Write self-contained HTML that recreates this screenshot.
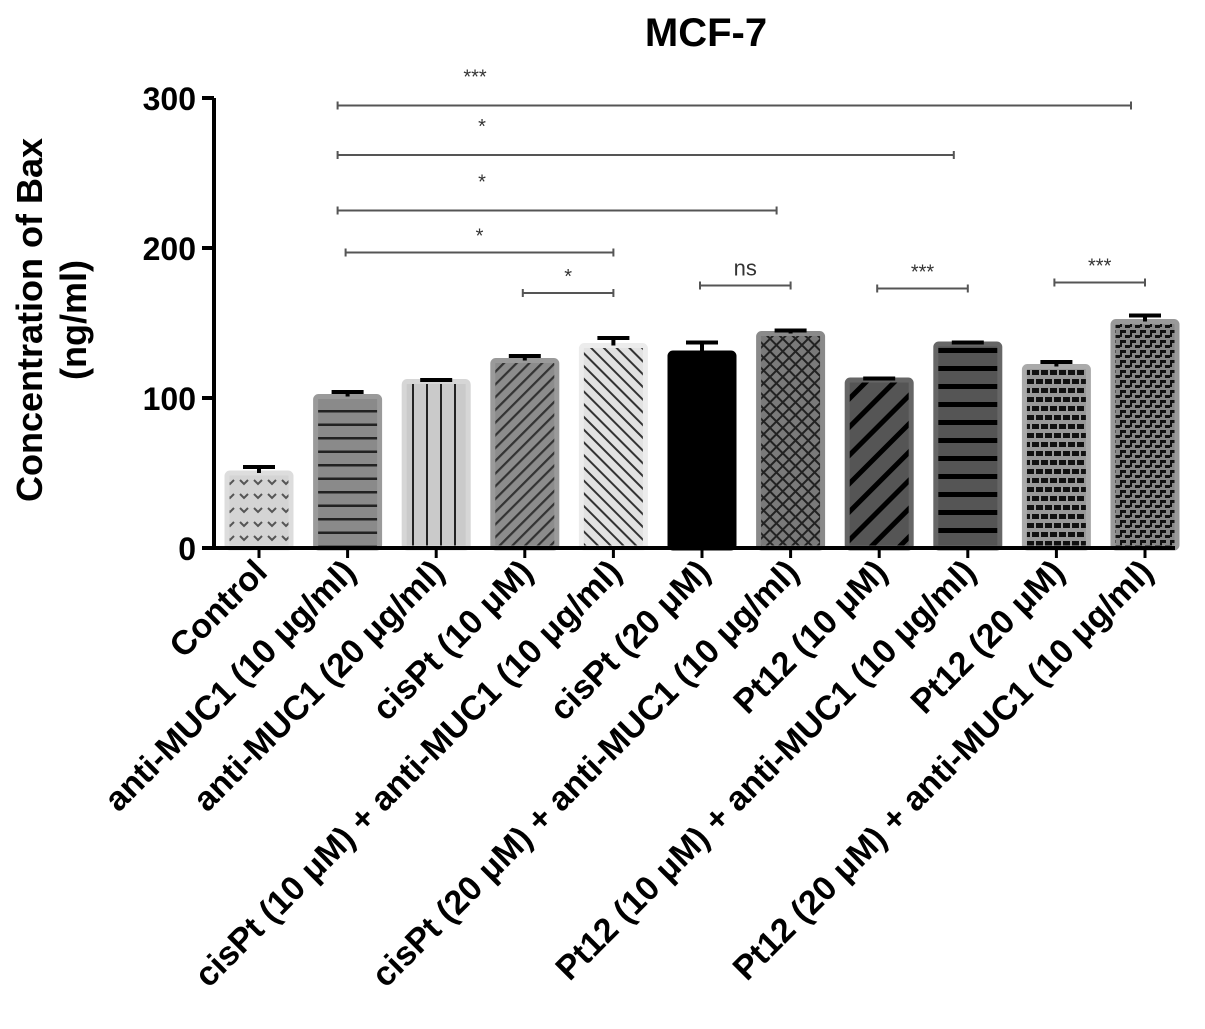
<!DOCTYPE html>
<html><head><meta charset="utf-8"><style>
html,body{margin:0;padding:0;background:#fff;}
svg{display:block;font-family:"Liberation Sans",Arial,sans-serif;}
</style></head><body>
<svg width="1205" height="1029" viewBox="0 0 1205 1029">
<defs>
<pattern id="p0" width="14" height="14" patternUnits="userSpaceOnUse"><rect width="14" height="14" fill="#d4d4d4"/><path d="M2 4 l4 4 l4 -4" stroke="#555" stroke-width="2" fill="none"/></pattern>
<pattern id="p1" width="20" height="13.5" patternUnits="userSpaceOnUse"><rect width="20" height="13.5" fill="#8a8a8a"/><rect y="5" width="20" height="2.5" fill="#222"/></pattern>
<pattern id="p2" width="14" height="20" patternUnits="userSpaceOnUse"><rect width="14" height="20" fill="#cacaca"/><rect x="6" width="2" height="20" fill="#222"/></pattern>
<pattern id="p3" width="9" height="9" patternUnits="userSpaceOnUse" patternTransform="rotate(45)"><rect width="9" height="9" fill="#8c8c8c"/><rect width="2.2" height="9" fill="#333"/></pattern>
<pattern id="p4" width="9" height="9" patternUnits="userSpaceOnUse" patternTransform="rotate(-45)"><rect width="9" height="9" fill="#e2e2e2"/><rect width="2" height="9" fill="#333"/></pattern>
<pattern id="p5" width="10" height="10" patternUnits="userSpaceOnUse"><rect width="10" height="10" fill="#000"/></pattern>
<pattern id="p6" width="9" height="9" patternUnits="userSpaceOnUse" patternTransform="rotate(45)"><rect width="9" height="9" fill="#7a7a7a"/><rect width="2" height="9" fill="#222"/><rect width="9" height="2" fill="#222"/></pattern>
<pattern id="p7" width="20" height="20" patternUnits="userSpaceOnUse" patternTransform="rotate(45)"><rect width="20" height="20" fill="#555"/><rect width="5" height="20" fill="#000"/></pattern>
<pattern id="p8" width="20" height="18" patternUnits="userSpaceOnUse"><rect width="20" height="18" fill="#555"/><rect y="6" width="20" height="5" fill="#000"/></pattern>
<pattern id="p9" width="18" height="18" patternUnits="userSpaceOnUse"><rect width="18" height="18" fill="#999"/><rect x="1" y="1" width="7" height="5" fill="#111"/><rect x="10" y="1" width="7" height="5" fill="#111"/><rect x="-3" y="10" width="7" height="5" fill="#111"/><rect x="6" y="10" width="7" height="5" fill="#111"/><rect x="15" y="10" width="7" height="5" fill="#111"/></pattern>
<pattern id="p10" width="10" height="10" patternUnits="userSpaceOnUse"><rect width="10" height="10" fill="#888"/><rect x="0" y="0" width="6" height="3" fill="#111"/><rect x="5" y="5" width="6" height="3" fill="#111"/><rect x="0" y="3" width="2" height="4" fill="#111"/></pattern>
</defs>
<g id="plot"></g>
</svg>
<script>
const categories=["Control","anti-MUC1 (10 \u03bcg/ml)","anti-MUC1 (20 \u03bcg/ml)","cisPt (10 \u03bcM)","cisPt (10 \u03bcM) + anti-MUC1 (10 \u03bcg/ml)","cisPt (20 \u03bcM)","cisPt (20 \u03bcM) + anti-MUC1 (10 \u03bcg/ml)","Pt12 (10 \u03bcM)","Pt12 (10 \u03bcM) + anti-MUC1 (10 \u03bcg/ml)","Pt12 (20 \u03bcM)","Pt12 (20 \u03bcM) + anti-MUC1 (10 \u03bcg/ml)"];
const values=[50,101,111,125,135,130,143,112,136,121,151];
const errors=[4,3,1,3,5,7,2,1,1,3,4];
const yTicks=[0,100,200,300];
const sigFrom=[1,1,1,1,3,5,7,9];
const sigTo=[10,8,6,4,4,6,8,10];
const sigY=[295,262,225,197,170,175,173,177];
const sigLabels=["***","*","*","*","*","ns","***","***"];
const outlines=["#ddd","#9a9a9a","#d6d6d6","#9a9a9a","#ececec","#000","#8a8a8a","#666","#666","#aaa","#999"];
const NS="http://www.w3.org/2000/svg";
const g=document.getElementById('plot');
const x0=214,y0=548,yTop=98,ymax=300,x1=1175;
const step=88.6,first=259,bw=64;
const xs=i=>first+i*step;
const ys=v=>y0-(v/ymax)*(y0-yTop);
function mk(t,a,p){const e=document.createElementNS(NS,t);for(const k in a)e.setAttribute(k,a[k]);(p||g).appendChild(e);return e;}
let t=mk('text',{x:706,y:46,'text-anchor':'middle','font-size':40,'font-weight':'bold'});t.textContent='MCF-7';


let yt=mk('text',{transform:'translate(42,320) rotate(-90)','text-anchor':'middle','font-size':36,'font-weight':'bold'});


mk('tspan',{x:0,dy:0},yt).textContent='Concentration of Bax';
mk('tspan',{x:0,dy:44},yt).textContent='(ng/ml)';
values.forEach((v,i)=>{
  const cx=xs(i),top=ys(v);
  const r=mk('rect',{x:cx-bw/2,y:top,width:bw,height:y0-top,fill:'url(#p'+i+')',stroke:outlines[i],'stroke-width':5,rx:3});
  
  
  const et=ys(v+errors[i]);
  const e=mk('path',{d:`M${cx} ${top} V${et} M${cx-16} ${et} H${cx+16}`,stroke:'#000','stroke-width':4,fill:'none'});
  
  
  mk('line',{x1:cx,x2:cx,y1:y0,y2:y0+10,stroke:'#000','stroke-width':3});
  const lab=mk('text',{transform:`translate(${cx+10},${y0+26}) rotate(-45)`,'text-anchor':'end','font-size':34,'font-weight':'bold'});
  lab.textContent=categories[i];
  
  
});
let ax=mk('path',{d:`M${x0} ${yTop} V${y0} H${x1}`,stroke:'#000','stroke-width':4,fill:'none'});


yTicks.forEach(v=>{
  const y=ys(v);
  mk('line',{x1:x0-12,x2:x0,y1:y,y2:y,stroke:'#000','stroke-width':4});
  const l=mk('text',{x:x0-18,y:y+12,'text-anchor':'end','font-size':32,'font-weight':'bold'});
  l.textContent=v;
  
  
});
sigFrom.forEach((a,k)=>{
  const wideB=sigTo[k]-a>3;
  const xa=xs(a)-(wideB?10:2),xb=xs(sigTo[k])-(wideB?14:0),y=ys(sigY[k]);
  const p=mk('path',{d:`M${xa} ${y-4} V${y+4} M${xa} ${y} H${xb} M${xb} ${y-4} V${y+4}`,stroke:'#555','stroke-width':2,fill:'none'});
  
  
  const lx=wideB?(k==0?475:482):(xa+xb)/2;
  const ly=wideB?y-22:y-10;
  const s=mk('text',{x:lx,y:ly,'text-anchor':'middle','font-size':sigLabels[k]=='ns'?22:20,fill:'#333'});
  s.textContent=sigLabels[k];
  
  
});
</script>
</body></html>
